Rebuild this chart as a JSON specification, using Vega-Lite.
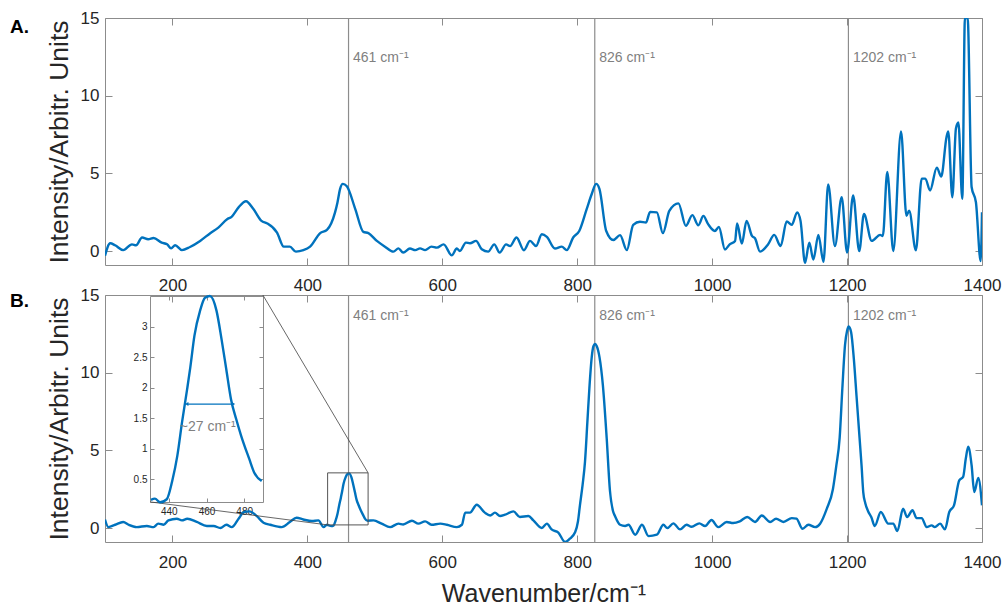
{
  "$schema": "https://vega.github.io/schema/vega-lite/v6.json",
  "padding": {"left": 10, "top": 9, "right": 5, "bottom": 0},
  "config": {
    "font": "Liberation Sans",
    "view": {"stroke": null},
    "axis": {"grid": false, "domainColor": "#8c8c8c", "tickColor": "#8c8c8c", "labelColor": "#262626", "titleColor": "#262626", "labelFont": "Liberation Sans", "titleFont": "Liberation Sans", "titleFontWeight": "normal", "zindex": 1}
  },
  "datasets": {
    "specA": [
      {"x":100,"y":-0.3},{"x":107.7,"y":0.5},{"x":115,"y":0.37},{"x":127,"y":0.06},{"x":140,"y":0.43},{"x":146,"y":0.37},{"x":155,"y":0.87},{"x":164,"y":0.76},{"x":172,"y":0.84},{"x":184,"y":0.54},{"x":192,"y":0.43},{"x":198,"y":0.17},{"x":204,"y":0.37},{"x":214,"y":0.06},{"x":226,"y":0.26},{"x":241,"y":0.65},{"x":256,"y":1.15},{"x":268,"y":1.51},{"x":281,"y":2.05},{"x":288,"y":2.22},{"x":298,"y":2.81},{"x":309,"y":3.2},{"x":320,"y":2.7},{"x":332,"y":1.94},{"x":340,"y":1.79},{"x":355,"y":1.19},{"x":365,"y":0.28},{"x":374,"y":0.28},{"x":383,"y":-0.04},{"x":394,"y":0.05},{"x":404,"y":0.28},{"x":419,"y":1.15},{"x":429,"y":1.36},{"x":441,"y":2.49},{"x":444.6,"y":3.13},{"x":448.5,"y":4.0},{"x":452.5,"y":4.32},{"x":458.5,"y":4.17},{"x":471,"y":2.7},{"x":483,"y":1.23},{"x":490.5,"y":1.15},{"x":503,"y":0.65},{"x":515,"y":0.28},{"x":527.5,"y":-0.04},{"x":535,"y":0.17},{"x":542,"y":-0.1},{"x":552,"y":0.16},{"x":560,"y":0.06},{"x":567,"y":0.17},{"x":574.5,"y":0.06},{"x":584,"y":0.28},{"x":592,"y":0.22},{"x":602,"y":0.43},{"x":614,"y":-0.28},{"x":621.5,"y":0.16},{"x":626,"y":0},{"x":635,"y":0.54},{"x":641,"y":0.5},{"x":650,"y":0.65},{"x":658.5,"y":0.11},{"x":668,"y":-0.04},{"x":677,"y":0.43},{"x":685,"y":-0.1},{"x":694.5,"y":0.43},{"x":700.5,"y":0.32},{"x":710,"y":0.87},{"x":721,"y":0.05},{"x":730,"y":0.65},{"x":739,"y":0.32},{"x":747.5,"y":1.08},{"x":755,"y":0.91},{"x":767,"y":0.16},{"x":777,"y":0.28},{"x":784.5,"y":0.06},{"x":794,"y":0.87},{"x":803,"y":1.29},{"x":814,"y":2.7},{"x":821.5,"y":3.67},{"x":828,"y":4.32},{"x":833,"y":3.99},{"x":843,"y":1.29},{"x":853.5,"y":0.71},{"x":863.5,"y":1.02},{"x":873.5,"y":0.06},{"x":883,"y":1.68},{"x":893,"y":1.88},{"x":902,"y":1.84},{"x":908,"y":2.52},{"x":918,"y":2.49},{"x":927,"y":1.15},{"x":936.5,"y":2.59},{"x":950,"y":3.07},{"x":961,"y":1.62},{"x":970.6,"y":2.31},{"x":979.5,"y":1.66},{"x":987,"y":2.26},{"x":994,"y":1.73},{"x":1004,"y":1.29},{"x":1010,"y":1.55},{"x":1019,"y":0.1},{"x":1026,"y":0.43},{"x":1034,"y":0.65},{"x":1037,"y":1.78},{"x":1044,"y":0.48},{"x":1051,"y":1.94},{"x":1059,"y":0.97},{"x":1063.5,"y":0.82},{"x":1071,"y":-0.04},{"x":1083,"y":0.43},{"x":1092,"y":1.04},{"x":1101.5,"y":0.32},{"x":1110.5,"y":1.9},{"x":1118,"y":1.68},{"x":1126,"y":2.49},{"x":1131,"y":1.94},{"x":1137.7,"y":-0.76},{"x":1144,"y":0.54},{"x":1150,"y":-0.55},{"x":1157.5,"y":1.04},{"x":1165,"y":-0.69},{"x":1172,"y":4.28},{"x":1182,"y":0.32},{"x":1192,"y":3.46},{"x":1200,"y":-0.1},{"x":1209,"y":3.57},{"x":1218,"y":0},{"x":1225,"y":2.38},{"x":1236.5,"y":0.65},{"x":1249,"y":1.04},{"x":1253,"y":0.97},{"x":1259.6,"y":5.09},{"x":1268.5,"y":0},{"x":1280,"y":7.69},{"x":1288,"y":2.27},{"x":1292,"y":2.6},{"x":1302,"y":0.05},{"x":1310.6,"y":4.66},{"x":1316,"y":4.66},{"x":1323,"y":3.9},{"x":1333,"y":5.37},{"x":1339.6,"y":4.8},{"x":1347.5,"y":7.36},{"x":1350,"y":7.69},{"x":1356,"y":3.46},{"x":1361.4,"y":7.9},{"x":1365,"y":8.27},{"x":1370.8,"y":3.36},{"x":1374.7,"y":15},{"x":1378.7,"y":15},{"x":1384.6,"y":4.12},{"x":1391,"y":3.14},{"x":1398,"y":-0.65},{"x":1400,"y":2.5}
    ],
    "specB": [
      {"x":100,"y":0.55},{"x":105,"y":0.06},{"x":115,"y":0.21},{"x":127,"y":0.39},{"x":135,"y":0.21},{"x":147,"y":0.06},{"x":162,"y":0.13},{"x":172,"y":0.06},{"x":179,"y":0.28},{"x":187,"y":0.21},{"x":194,"y":0.49},{"x":206.5,"y":0.6},{"x":214,"y":0.49},{"x":222,"y":0.6},{"x":236,"y":0.39},{"x":251,"y":0.13},{"x":261,"y":0.13},{"x":271,"y":0},{"x":280,"y":0.21},{"x":288,"y":0.06},{"x":298,"y":0.6},{"x":306,"y":1.03},{"x":314,"y":1.07},{"x":325,"y":0.77},{"x":335,"y":0.34},{"x":345,"y":0.21},{"x":362,"y":0.06},{"x":374,"y":0.39},{"x":384,"y":0.66},{"x":394,"y":0.55},{"x":406.6,"y":0.45},{"x":416.4,"y":0.49},{"x":424,"y":0.06},{"x":429,"y":0.21},{"x":435.4,"y":0.12},{"x":438.9,"y":0.17},{"x":441.8,"y":0.47},{"x":444.5,"y":0.88},{"x":447,"y":1.43},{"x":449.7,"y":1.97},{"x":451.4,"y":2.33},{"x":453.6,"y":2.85},{"x":456.6,"y":3.26},{"x":459.2,"y":3.47},{"x":461.8,"y":3.52},{"x":465.3,"y":3.26},{"x":468,"y":2.79},{"x":470.5,"y":2.3},{"x":473,"y":1.81},{"x":475.8,"y":1.48},{"x":478.4,"y":1.21},{"x":482.7,"y":0.83},{"x":485.3,"y":0.61},{"x":489.3,"y":0.47},{"x":498,"y":0.49},{"x":510,"y":0.28},{"x":522.6,"y":0.06},{"x":535,"y":0.28},{"x":542,"y":0.23},{"x":555,"y":0.47},{"x":564.6,"y":0.28},{"x":574.5,"y":0.43},{"x":584,"y":0.21},{"x":597,"y":0.28},{"x":606.7,"y":0.21},{"x":621.5,"y":0.06},{"x":629,"y":0.21},{"x":634,"y":0.99},{"x":641,"y":0.99},{"x":651,"y":1.5},{"x":663,"y":0.99},{"x":671,"y":0.81},{"x":678,"y":0.99},{"x":685.6,"y":0.77},{"x":693,"y":0.86},{"x":705.4,"y":1.07},{"x":715,"y":0.71},{"x":727.6,"y":0.77},{"x":735,"y":0.49},{"x":747.5,"y":0},{"x":755,"y":0.28},{"x":762,"y":-0.09},{"x":772,"y":-0.3},{"x":782,"y":-0.9},{"x":789,"y":-0.69},{"x":797,"y":-0.26},{"x":801,"y":0.4},{"x":804,"y":1.46},{"x":808,"y":2.8},{"x":811.5,"y":4.26},{"x":815,"y":6.8},{"x":818,"y":9.0},{"x":821.5,"y":11.0},{"x":824,"y":11.7},{"x":826.5,"y":11.85},{"x":829,"y":11.7},{"x":833,"y":11.0},{"x":838,"y":9.2},{"x":843.7,"y":5.76},{"x":848.5,"y":2.4},{"x":853,"y":1.1},{"x":856,"y":0.77},{"x":863.5,"y":0.21},{"x":871,"y":0.13},{"x":876,"y":0.21},{"x":886,"y":-0.43},{"x":896,"y":0.21},{"x":905.7,"y":-0.52},{"x":918,"y":-0.43},{"x":927.7,"y":0.21},{"x":933.6,"y":0},{"x":942.5,"y":0.3},{"x":952.4,"y":-0.09},{"x":962,"y":0.21},{"x":969.5,"y":0.08},{"x":981,"y":0.3},{"x":989.5,"y":0.13},{"x":999,"y":0.52},{"x":1009,"y":0.06},{"x":1021.6,"y":0.39},{"x":1031,"y":0.32},{"x":1041,"y":0.43},{"x":1052,"y":0.71},{"x":1063.5,"y":0.39},{"x":1073.5,"y":0.81},{"x":1086,"y":0.39},{"x":1094.7,"y":0.6},{"x":1105.5,"y":0.39},{"x":1118,"y":0.64},{"x":1125,"y":0.6},{"x":1134,"y":-0.05},{"x":1142.6,"y":0.21},{"x":1152.5,"y":0.06},{"x":1160,"y":0.28},{"x":1170,"y":1.25},{"x":1179,"y":2.5},{"x":1184,"y":4.0},{"x":1189,"y":5.8},{"x":1193,"y":9.0},{"x":1197,"y":11.8},{"x":1200,"y":12.7},{"x":1202.5,"y":12.97},{"x":1206,"y":12.6},{"x":1210,"y":10.9},{"x":1214,"y":8.5},{"x":1218.5,"y":5.8},{"x":1221.5,"y":4.0},{"x":1224,"y":2.3},{"x":1227,"y":1.6},{"x":1231,"y":1.1},{"x":1236,"y":0.7},{"x":1241,"y":0.13},{"x":1250,"y":1.03},{"x":1261,"y":0.28},{"x":1268.5,"y":0.28},{"x":1274.5,"y":-0.2},{"x":1283,"y":1.25},{"x":1289,"y":0.71},{"x":1297,"y":1.14},{"x":1303,"y":0.64},{"x":1310.6,"y":0.64},{"x":1318,"y":0.06},{"x":1325.4,"y":0.17},{"x":1330,"y":0.06},{"x":1338,"y":0.28},{"x":1345,"y":-0.09},{"x":1351.5,"y":1.03},{"x":1358.5,"y":1.46},{"x":1366.3,"y":3.07},{"x":1372,"y":3.29},{"x":1376,"y":4.47},{"x":1379.6,"y":5.23},{"x":1384.6,"y":4.04},{"x":1388.5,"y":2.32},{"x":1394.5,"y":3.23},{"x":1400,"y":1.46}
    ],
    "inset": [
      {"x":430.5,"y":0.16},{"x":432.6,"y":0.18},{"x":435.4,"y":0.12},{"x":438.9,"y":0.17},{"x":441.8,"y":0.47},{"x":444.5,"y":0.88},{"x":447,"y":1.43},{"x":449.7,"y":1.97},{"x":451.4,"y":2.33},{"x":453.6,"y":2.85},{"x":456.6,"y":3.26},{"x":459.2,"y":3.47},{"x":461.8,"y":3.5},{"x":465.3,"y":3.26},{"x":468,"y":2.79},{"x":470.5,"y":2.3},{"x":473,"y":1.81},{"x":475.8,"y":1.48},{"x":478.4,"y":1.21},{"x":482.7,"y":0.83},{"x":485.3,"y":0.61},{"x":489.3,"y":0.47}
    ],
    "refs": [{"x":461,"label":"461 cm⁻¹"},{"x":826,"label":"826 cm⁻¹"},{"x":1202,"label":"1202 cm⁻¹"}]
  },
  "spacing": 30,
  "bounds": "flush",
  "vconcat": [
    {
      "width": 877, "height": 247,
      "resolve": {"scale": {"x": "independent", "y": "independent"}},
      "layer": [
        {
          "data": {"name": "refs"},
          "mark": {"type": "rule", "color": "#8c8c8c", "strokeWidth": 1.2},
          "encoding": {
            "x": {"field": "x", "type": "quantitative", "scale": {"domain": [100, 1400], "nice": false, "zero": false},
                  "axis": {"orient": "top", "values": [200,400,600,800,1000,1200,1400], "tickSize": -7, "labels": false, "title": null}}
          }
        },
        {
          "data": {"name": "refs"},
          "mark": {"type": "text", "align": "left", "baseline": "middle", "dx": 4.5, "fontSize": 14, "color": "#808080"},
          "encoding": {
            "x": {"field": "x", "type": "quantitative", "scale": {"domain": [100, 1400], "nice": false, "zero": false}, "axis": null},
            "y": {"datum": 12.45, "type": "quantitative", "scale": {"domain": [-0.9, 15], "nice": false, "zero": false},
                  "axis": {"orient": "right", "values": [0,5,10,15], "tickSize": -7, "labels": false, "title": null}},
            "text": {"field": "label"}
          }
        },
        {
          "data": {"name": "specA"},
          "mark": {"type": "line", "color": "#0072BD", "strokeWidth": 2.4, "clip": true, "interpolate": "monotone"},
          "encoding": {
            "x": {"field": "x", "type": "quantitative", "scale": {"domain": [100, 1400], "nice": false, "zero": false},
                  "axis": {"orient": "bottom", "values": [200,400,600,800,1000,1200,1400], "format": "d", "tickSize": -7, "labelPadding": 19, "labelFontSize": 17, "labelFlush": false, "labelOverlap": false, "title": null}},
            "y": {"field": "y", "type": "quantitative", "scale": {"domain": [-0.9, 15], "nice": false, "zero": false},
                  "axis": {"orient": "left", "values": [0,5,10,15], "tickSize": -7, "labelPadding": 13, "labelFontSize": 17, "title": "Intensity/Arbitr. Units", "titleFontSize": 26.5, "titlePadding": 7}}
          }
        },
        {
          "data": {"values": [{"t": "A."}]},
          "mark": {"type": "text", "align": "left", "baseline": "alphabetic", "dx": -95, "dy": 15, "fontSize": 19, "fontWeight": "bold", "color": "#000000"},
          "encoding": {
            "x": {"datum": 100, "type": "quantitative", "scale": {"domain": [100, 1400], "nice": false, "zero": false}, "axis": null},
            "y": {"datum": 15, "type": "quantitative", "scale": {"domain": [-0.9, 15], "nice": false, "zero": false}, "axis": null},
            "text": {"field": "t"}
          }
        }
      ]
    },
    {
      "width": 877, "height": 247,
      "resolve": {"scale": {"x": "independent", "y": "independent"}},
      "layer": [
        {
          "data": {"name": "refs"},
          "mark": {"type": "rule", "color": "#8c8c8c", "strokeWidth": 1.2},
          "encoding": {
            "x": {"field": "x", "type": "quantitative", "scale": {"domain": [100, 1400], "nice": false, "zero": false},
                  "axis": {"orient": "top", "values": [200,400,600,800,1000,1200,1400], "tickSize": -7, "labels": false, "title": null}}
          }
        },
        {
          "data": {"name": "refs"},
          "mark": {"type": "text", "align": "left", "baseline": "middle", "dx": 4.5, "fontSize": 14, "color": "#808080"},
          "encoding": {
            "x": {"field": "x", "type": "quantitative", "scale": {"domain": [100, 1400], "nice": false, "zero": false}, "axis": null},
            "y": {"datum": 13.63, "type": "quantitative", "scale": {"domain": [-0.9, 15], "nice": false, "zero": false},
                  "axis": {"orient": "right", "values": [0,5,10,15], "tickSize": -7, "labels": false, "title": null}},
            "text": {"field": "label"}
          }
        },
        {
          "data": {"name": "specB"},
          "mark": {"type": "line", "color": "#0072BD", "strokeWidth": 2.4, "clip": true, "interpolate": "monotone"},
          "encoding": {
            "x": {"field": "x", "type": "quantitative", "scale": {"domain": [100, 1400], "nice": false, "zero": false},
                  "axis": {"orient": "bottom", "values": [200,400,600,800,1000,1200,1400], "format": "d", "tickSize": -7, "labelPadding": 19, "labelFontSize": 17, "labelFlush": false, "labelOverlap": false, "title": "Wavenumber/cm⁻¹", "titleFontSize": 25, "titlePadding": 11}},
            "y": {"field": "y", "type": "quantitative", "scale": {"domain": [-0.9, 15], "nice": false, "zero": false},
                  "axis": {"orient": "left", "values": [0,5,10,15], "tickSize": -7, "labelPadding": 13, "labelFontSize": 17, "title": "Intensity/Arbitr. Units", "titleFontSize": 26.5, "titlePadding": 7}}
          }
        },
        {
          "data": {"values": [{"x": 430, "x2": 490, "y": 0.2, "y2": 3.55}]},
          "mark": {"type": "rect", "fillOpacity": 0, "stroke": "#555555", "strokeWidth": 1},
          "encoding": {
            "x": {"field": "x", "type": "quantitative", "scale": {"domain": [100, 1400], "nice": false, "zero": false}, "axis": null},
            "x2": {"field": "x2"},
            "y": {"field": "y", "type": "quantitative", "scale": {"domain": [-0.9, 15], "nice": false, "zero": false}, "axis": null},
            "y2": {"field": "y2"}
          }
        },
        {
          "data": {"values": [{"x": 334, "y": 15, "x2": 490, "y2": 3.55}, {"x": 167, "y": 1.68, "x2": 430, "y2": 0.2}]},
          "mark": {"type": "rule", "color": "#404040", "strokeWidth": 0.8},
          "encoding": {
            "x": {"field": "x", "type": "quantitative", "scale": {"domain": [100, 1400], "nice": false, "zero": false}, "axis": null},
            "x2": {"field": "x2"},
            "y": {"field": "y", "type": "quantitative", "scale": {"domain": [-0.9, 15], "nice": false, "zero": false}, "axis": null},
            "y2": {"field": "y2"}
          }
        },
        {
          "data": {"values": [{"t": "B."}]},
          "mark": {"type": "text", "align": "left", "baseline": "alphabetic", "dx": -95, "dy": 12, "fontSize": 19, "fontWeight": "bold", "color": "#000000"},
          "encoding": {
            "x": {"datum": 100, "type": "quantitative", "scale": {"domain": [100, 1400], "nice": false, "zero": false}, "axis": null},
            "y": {"datum": 15, "type": "quantitative", "scale": {"domain": [-0.9, 15], "nice": false, "zero": false}, "axis": null},
            "text": {"field": "t"}
          }
        },
        {
          "data": {"name": "inset"},
          "mark": {"type": "line", "color": "#0072BD", "strokeWidth": 2.4, "interpolate": "monotone"},
          "encoding": {
            "x": {"field": "x", "type": "quantitative", "scale": {"domain": [430, 490], "range": [45, 158], "nice": false, "zero": false},
                  "axis": {"orient": "bottom", "offset": -40, "values": [440,460,480], "format": "d", "tickSize": -4, "labelPadding": 8, "labelFontSize": 10, "title": null}},
            "y": {"field": "y", "type": "quantitative", "scale": {"domain": [0.125, 3.5], "range": [207, 1], "nice": false, "zero": false},
                  "axis": {"orient": "left", "offset": -45, "values": [0.5,1,1.5,2,2.5,3], "format": "~g", "tickSize": -4, "labelPadding": 7, "labelFontSize": 10, "title": null}}
          }
        },
        {
          "data": {"values": [{"x1": 449.5, "x2": 474.3, "y": 1.73}]},
          "mark": {"type": "rule", "color": "#0072BD", "strokeWidth": 1.2},
          "encoding": {
            "x": {"field": "x1", "type": "quantitative", "scale": {"domain": [430, 490], "range": [45, 158], "nice": false, "zero": false},
                  "axis": {"orient": "top", "offset": -1, "values": [440,460,480], "tickSize": -4, "labels": false, "title": null}},
            "x2": {"field": "x2"},
            "y": {"field": "y", "type": "quantitative", "scale": {"domain": [0.125, 3.5], "range": [207, 1], "nice": false, "zero": false},
                  "axis": {"orient": "right", "offset": -719, "values": [0.5,1,1.5,2,2.5,3], "tickSize": -4, "labels": false, "title": null}}
          }
        },
        {
          "data": {"values": [{"x": 449.5, "y": 1.73, "s": "triangle-left"}, {"x": 474.3, "y": 1.73, "s": "triangle-right"}]},
          "mark": {"type": "point", "filled": true, "color": "#0072BD", "size": 16, "opacity": 1},
          "encoding": {
            "x": {"field": "x", "type": "quantitative", "scale": {"domain": [430, 490], "range": [45, 158], "nice": false, "zero": false}, "axis": null},
            "y": {"field": "y", "type": "quantitative", "scale": {"domain": [0.125, 3.5], "range": [207, 1], "nice": false, "zero": false}, "axis": null},
            "shape": {"field": "s", "type": "nominal", "scale": null}
          }
        },
        {
          "data": {"values": [{"x": 445.8, "y": 1.36, "t": "~27 cm⁻¹"}]},
          "mark": {"type": "text", "align": "left", "baseline": "middle", "fontSize": 14, "color": "#808080"},
          "encoding": {
            "x": {"field": "x", "type": "quantitative", "scale": {"domain": [430, 490], "range": [45, 158], "nice": false, "zero": false}, "axis": null},
            "y": {"field": "y", "type": "quantitative", "scale": {"domain": [0.125, 3.5], "range": [207, 1], "nice": false, "zero": false}, "axis": null},
            "text": {"field": "t"}
          }
        }
      ]
    }
  ]
}
